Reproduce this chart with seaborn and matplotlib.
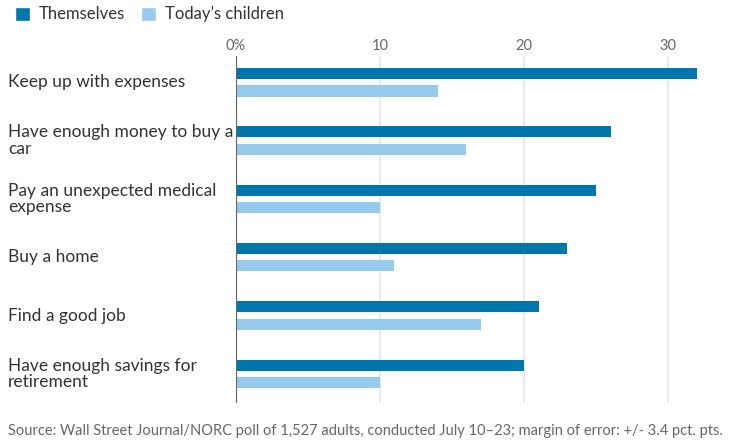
import textwrap

import matplotlib.pyplot as plt
import matplotlib.transforms as mtransforms
import pandas as pd
import seaborn as sns
from matplotlib.patches import Patch

# Data (share of adults who are confident, %)
categories = [
    "Keep up with expenses",
    "Have enough money to buy a car",
    "Pay an unexpected medical expense",
    "Buy a home",
    "Find a good job",
    "Have enough savings for retirement",
]
themselves = [32, 26, 25, 23, 21, 20]
todays_children = [14, 16, 10, 11, 17, 10]
series_names = ["Themselves", "Today\u2019s children"]
x_ticks = [0, 10, 20, 30]
x_tick_labels = ["0%", "10", "20", "30"]
source_note = ("Source: Wall Street Journal/NORC poll of 1,527 adults, conducted "
               "July 10\u201323; margin of error: +/- 3.4 pct. pts.")

df = pd.DataFrame({
    "category": categories * 2,
    "group": [series_names[0]] * len(categories) + [series_names[1]] * len(categories),
    "value": themselves + todays_children,
})

dark_blue = "#0077AC"
light_blue = "#96CBEE"
text_col = "#333333"
grey_col = "#666666"

sns.set_theme(style="white")
plt.rcParams["font.family"] = ["Lato", "DejaVu Sans"]

fig = plt.figure(figsize=(7.3, 4.44), dpi=100)
ax = fig.add_axes([236 / 730, 1 - 403 / 444, (720 - 236) / 730, (403 - 56) / 444])

sns.barplot(data=df, y="category", x="value", hue="group", order=categories,
            hue_order=series_names, palette=[dark_blue, light_blue],
            orient="h", width=0.6, gap=0.37, legend=False, ax=ax,
            saturation=1, edgecolor="none")

ax.set_xlim(0, 33.6)
ax.set_ylim(5.5, -0.45)

# grid and zero line
for t in x_ticks[1:]:
    ax.axvline(t, color="#e6e6e6", lw=1.2, zorder=0)
ax.axvline(0, color=grey_col, lw=1.6, zorder=3)

for s in ax.spines.values():
    s.set_visible(False)

ax.xaxis.tick_top()
ax.set_xticks(x_ticks)
ax.set_xticklabels(x_tick_labels, color=grey_col, fontsize=10.5)
ax.tick_params(axis="x", length=0, pad=2)
ax.set_yticks([])
ax.set_xlabel("")
ax.set_ylabel("")

# category labels, left aligned at the figure edge
trans = mtransforms.blended_transform_factory(fig.transFigure, ax.transData)
for i, cat in enumerate(categories):
    ax.text(8 / 730, i, textwrap.fill(cat, 27), transform=trans, ha="left",
            va="center", fontsize=12.5, color=text_col, linespacing=1.05)

# legend
handles = [Patch(facecolor=dark_blue, label=series_names[0]),
           Patch(facecolor=light_blue, label=series_names[1])]
fig.legend(handles=handles, loc="upper left", bbox_to_anchor=(0.0, 1.02),
           ncol=2, frameon=False, fontsize=12, handlelength=0.9,
           handleheight=0.9, handletextpad=0.5, columnspacing=1.0,
           labelcolor=text_col)

fig.text(8 / 730, 1 - 431 / 444, source_note, ha="left", va="center",
         fontsize=10.5, color=grey_col)

fig.savefig("out.png", dpi=100)
